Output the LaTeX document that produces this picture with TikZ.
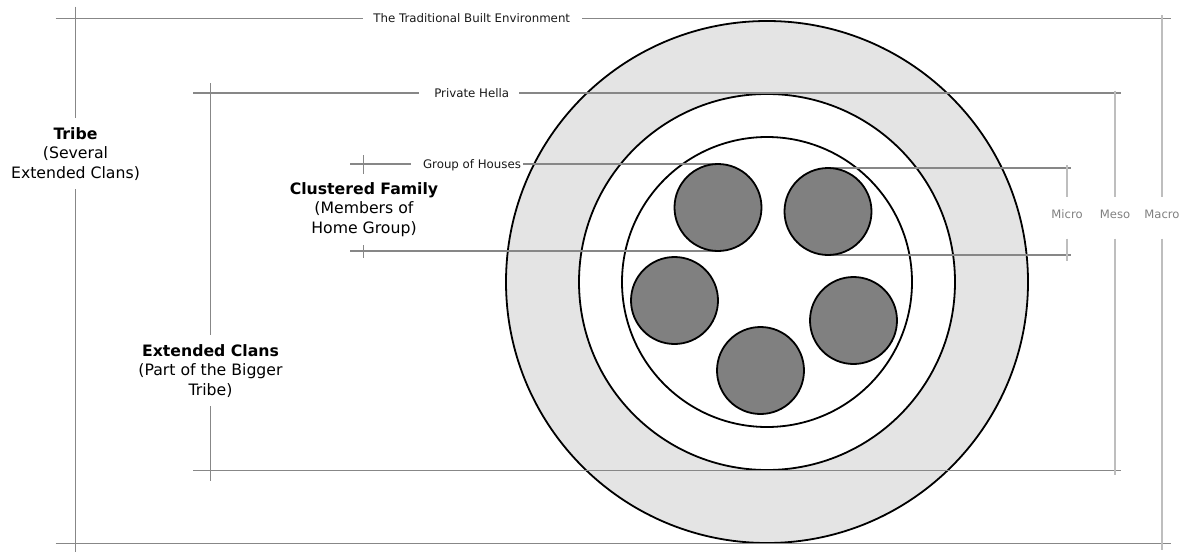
\documentclass[tikz,border=0pt]{standalone}
\usepackage{fontspec}
\setmainfont{DejaVu Sans}
\definecolor{ringgray}{RGB}{228,228,228}
\definecolor{housegray}{RGB}{128,128,128}
\definecolor{dimgray}{RGB}{135,135,135}
\definecolor{scalegray}{RGB}{190,190,190}
\definecolor{scaletext}{RGB}{128,128,128}
\definecolor{labelblack}{RGB}{25,25,25}
\begin{document}
\begin{tikzpicture}[x=1pt,y=-1pt,
  ring/.style={circle, draw=black, line width=1.8pt, inner sep=0pt, outer sep=0pt},
  houseslot/.style={circle, minimum size=87pt, inner sep=0pt, outer sep=0pt},
  housedisc/.style={draw=black, line width=1.8pt, fill=housegray},
  dimline/.style={draw=dimgray, line width=1.25pt},
  scaleline/.style={draw=scalegray, line width=1.25pt},
  smalllabel/.style={font=\fontsize{11.8}{14}\selectfont, text=labelblack,
    inner sep=0pt, text height=8.9pt, text depth=0pt},
  biglabel/.style={font=\fontsize{15.7}{19.5}\selectfont, align=center,
    inner xsep=0pt, inner ysep=9pt, anchor=north},
  scalelabel/.style={font=\fontsize{11.6}{14}\selectfont, text=scaletext,
    inner sep=0pt, text height=8.7pt, text depth=0pt, anchor=base}
]
\useasboundingbox (0,0) rectangle (1186,552);

% concentric rings: tribe territory, hella, house group
\node[ring, fill=ringgray, minimum size=522pt] (ringMacro) at (767,282) {};
\node[ring, fill=white, minimum size=376pt] (ringMeso) at (767,282) {};
\node[ring, fill=white, minimum size=290pt] (ringMicro) at (767,282) {};

% end points of the dimension lines
\coordinate (tL) at (55.5,18.5);
\coordinate (tR) at (1171,18.5);
\coordinate (bL) at (55.5,543.3);
\coordinate (bR) at (1171,543.3);
\coordinate (pL) at (193,93);
\coordinate (pR) at (1121,93);
\coordinate (pBL) at (193,470.5);
\coordinate (pBR) at (1121,470.5);
\coordinate (gL) at (350,164);
\coordinate (gR) at (1071,168);
\coordinate (gBL) at (350,251);
\coordinate (gBR) at (1071,255);
\coordinate (trT) at (75.5,6.7);
\coordinate (trB) at (75.5,552);
\coordinate (ecT) at (210.5,83);
\coordinate (ecB) at (210.5,481);
\coordinate (maT) at (1162,15);
\coordinate (maB) at (1162,550);
\coordinate (meT) at (1115,90.7);
\coordinate (meB) at (1115,475);
\coordinate (miT) at (1067,165);
\coordinate (miB) at (1067,260.5);
\coordinate (cfT1) at (363.6,155);
\coordinate (cfT2) at (363.6,174);
\coordinate (cfB1) at (363.6,245);
\coordinate (cfB2) at (363.6,258);

% house positions (discs are painted last, over the lines)
\node[houseslot] (h1) at (718,207.5) {};
\node[houseslot] (h2) at (828,211.5) {};
\node[houseslot] (h3) at (674.5,300.5) {};
\node[houseslot] (h4) at (853.5,320.5) {};
\node[houseslot] (h5) at (760.5,370.5) {};

% labels
\node[smalllabel] (tbe) at (471.7,18.5) {The Traditional Built Environment};
\node[smalllabel] (ph) at (471.7,93) {Private Hella};
\node[smalllabel] (goh) at (472,164) {Group of Houses};

\node[biglabel] (tribe) at (75.5,118) {{\bfseries Tribe}\\(Several\\Extended Clans)};
\node[biglabel] (ext) at (210.5,335) {{\bfseries Extended Clans}\\(Part of the Bigger\\Tribe)};
\node[biglabel] (clus) at (364,173) {{\bfseries Clustered Family}\\(Members of\\Home Group)};

\node[scalelabel] (lblMicro) at (1067,218.3) {Micro};
\node[scalelabel] (lblMeso) at (1115,218.3) {Meso};
\node[scalelabel] (lblMacro) at (1162,218.3) {Macro};

% horizontal dimension lines
\draw[dimline] (tL) -- ([xshift=-10pt]tbe.west);
\draw[dimline] ([xshift=12pt]tbe.east) -- (tR);
\draw[dimline] (bL) -- (bR);
\draw[dimline] (pL) -- ([xshift=-15pt]ph.west);
\draw[dimline] ([xshift=10pt]ph.east) -- (pR);
\draw[dimline] (pBL) -- (pBR);
\draw[dimline] (gL) -- ([xshift=-12pt]goh.west);
\draw[dimline] ([xshift=2pt]goh.east) -- (h1.north);
\draw[dimline] (h2.north) -- (gR);
\draw[dimline] (gBL) -- (h1.south);
\draw[dimline] (h2.south) -- (gBR);

% vertical dimension lines
\draw[dimline] (trT) -- (tribe.north);
\draw[dimline] (tribe.south) -- (trB);
\draw[dimline] (ecT) -- (ext.north);
\draw[dimline] (ext.south) -- (ecB);
\draw[dimline] (cfT1) -- (cfT2);
\draw[dimline] (cfB1) -- (cfB2);

% scale bars on the right
\draw[scaleline] (maT) -- ([yshift=12pt]lblMacro.north);
\draw[scaleline] ([yshift=-20pt]lblMacro.south) -- (maB);
\draw[scaleline] (meT) -- ([yshift=12pt]lblMeso.north);
\draw[scaleline] ([yshift=-20pt]lblMeso.south) -- (meB);
\draw[scaleline] (miT) -- ([yshift=12pt]lblMicro.north);
\draw[scaleline] ([yshift=-20pt]lblMicro.south) -- (miB);

% house discs
\foreach \h in {h1,h2,h3,h4,h5}
  \draw[housedisc] (\h) circle (43.5pt);
\end{tikzpicture}
\end{document}
